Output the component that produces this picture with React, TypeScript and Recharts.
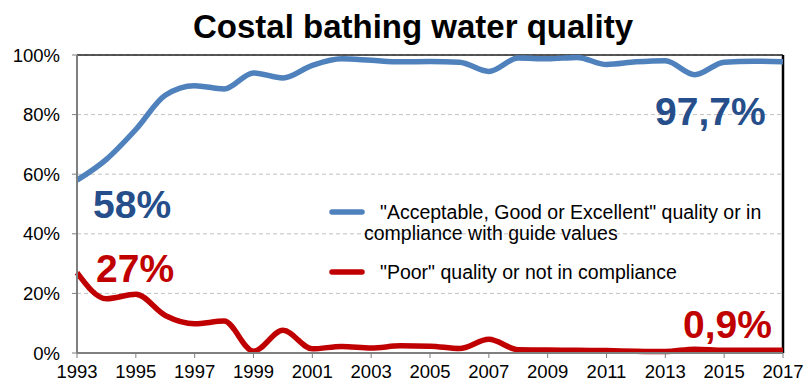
import { LineChart, Line, XAxis, YAxis, CartesianGrid, ReferenceLine } from 'recharts';

const years = [
  1993, 1994, 1995, 1996, 1997, 1998, 1999, 2000, 2001, 2002, 2003, 2004, 2005,
  2006, 2007, 2008, 2009, 2010, 2011, 2012, 2013, 2014, 2015, 2016, 2017,
];

// "Acceptable, Good or Excellent" quality, % of coastal sites
const goodShare = [
  58, 65, 75, 86.5, 89.7, 88.6, 94, 92.3, 96.5, 98.7, 98.2, 97.7, 97.8,
  97.6, 94.5, 99, 98.7, 99.2, 96.8, 97.7, 98.1, 93.4, 97.6, 97.9, 97.7,
];

// "Poor" quality, % of coastal sites
const poorShare = [
  27, 18.2, 19.7, 12.6, 9.8, 10.7, 0.6, 7.6, 1.4, 2.2, 1.7, 2.4, 2.3,
  1.5, 4.6, 1.1, 1.0, 0.9, 0.8, 0.6, 0.5, 1.3, 0.9, 0.9, 0.9,
];

const xTicks = [1993, 1995, 1997, 1999, 2001, 2003, 2005, 2007, 2009, 2011, 2013, 2015, 2017];
const yTicks = [0, 20, 40, 60, 80, 100];

const goodLabel = '"Acceptable, Good or Excellent" quality or in';
const goodLabel2 = 'compliance with guide values';
const poorLabel = '"Poor" quality or not in compliance';

const BLUE = '#4f81bd';
const DARK_BLUE = '#254e8a';
const RED = '#c00000';
const FONT = '"Liberation Sans", Arial, sans-serif';

const data = years.map((year, i) => ({ year, good: goodShare[i], poor: poorShare[i] }));

export default function App() {
  return (
    <div
      style={{
        position: 'absolute',
        left: 0,
        top: 0,
        width: 808,
        height: 383,
        overflow: 'hidden',
        background: '#fff',
        fontFamily: FONT,
      }}
    >
      <LineChart width={808} height={383} data={data} margin={{ top: 55, right: 25, bottom: 0, left: 0 }}>
        <CartesianGrid vertical={false} stroke="#c0c0c0" strokeDasharray="4 3" />
        <XAxis
          dataKey="year"
          type="number"
          domain={[1993, 2017]}
          ticks={xTicks}
          height={30}
          tickSize={5}
          tickMargin={7}
          tick={{ fontSize: 18.5, fill: '#000', fontFamily: FONT }}
          axisLine={{ stroke: '#7f7f7f', strokeWidth: 2 }}
          tickLine={{ stroke: '#7f7f7f' }}
        />
        <YAxis
          type="number"
          domain={[0, 100]}
          ticks={yTicks}
          width={77}
          tickSize={5}
          tickMargin={12}
          tickFormatter={(v) => `${v}%`}
          tick={{ fontSize: 18.5, fill: '#000', fontFamily: FONT }}
          axisLine={{ stroke: '#7f7f7f', strokeWidth: 2 }}
          tickLine={{ stroke: '#7f7f7f' }}
        />
        <ReferenceLine y={100} stroke="#222" strokeWidth={1.5} />
        <ReferenceLine x={2017} stroke="#000" strokeWidth={2.5} />
        <Line
          type="monotone"
          dataKey="good"
          stroke={BLUE}
          strokeWidth={5.5}
          dot={false}
          isAnimationActive={false}
        />
        <Line
          type="monotone"
          dataKey="poor"
          stroke={RED}
          strokeWidth={5.5}
          dot={false}
          isAnimationActive={false}
        />
      </LineChart>

      <svg
        width={808}
        height={383}
        style={{ position: 'absolute', left: 0, top: 0, pointerEvents: 'none' }}
        fontFamily={FONT}
      >
        <text x={413} y={38} textAnchor="middle" fontSize={33} fontWeight="bold" fill="#000">
          Costal bathing water quality
        </text>

        <text x={93} y={218} fontSize={39} fontWeight="bold" fill={DARK_BLUE}>58%</text>
        <text x={655} y={125} fontSize={39} fontWeight="bold" fill={DARK_BLUE}>97,7%</text>
        <text x={96} y={282} fontSize={39} fontWeight="bold" fill={RED}>27%</text>
        <text x={683} y={338} fontSize={39} fontWeight="bold" fill={RED}>0,9%</text>

        <line x1={332} y1={212} x2={362} y2={212} stroke={BLUE} strokeWidth={5.5} strokeLinecap="round" />
        <text x={380} y={219} fontSize={19.5} fill="#000">{goodLabel}</text>
        <text x={364} y={240} fontSize={19.5} fill="#000">{goodLabel2}</text>
        <line x1={332} y1={272} x2={362} y2={272} stroke={RED} strokeWidth={5.5} strokeLinecap="round" />
        <text x={380} y={279} fontSize={19.5} fill="#000">{poorLabel}</text>
      </svg>
    </div>
  );
}
